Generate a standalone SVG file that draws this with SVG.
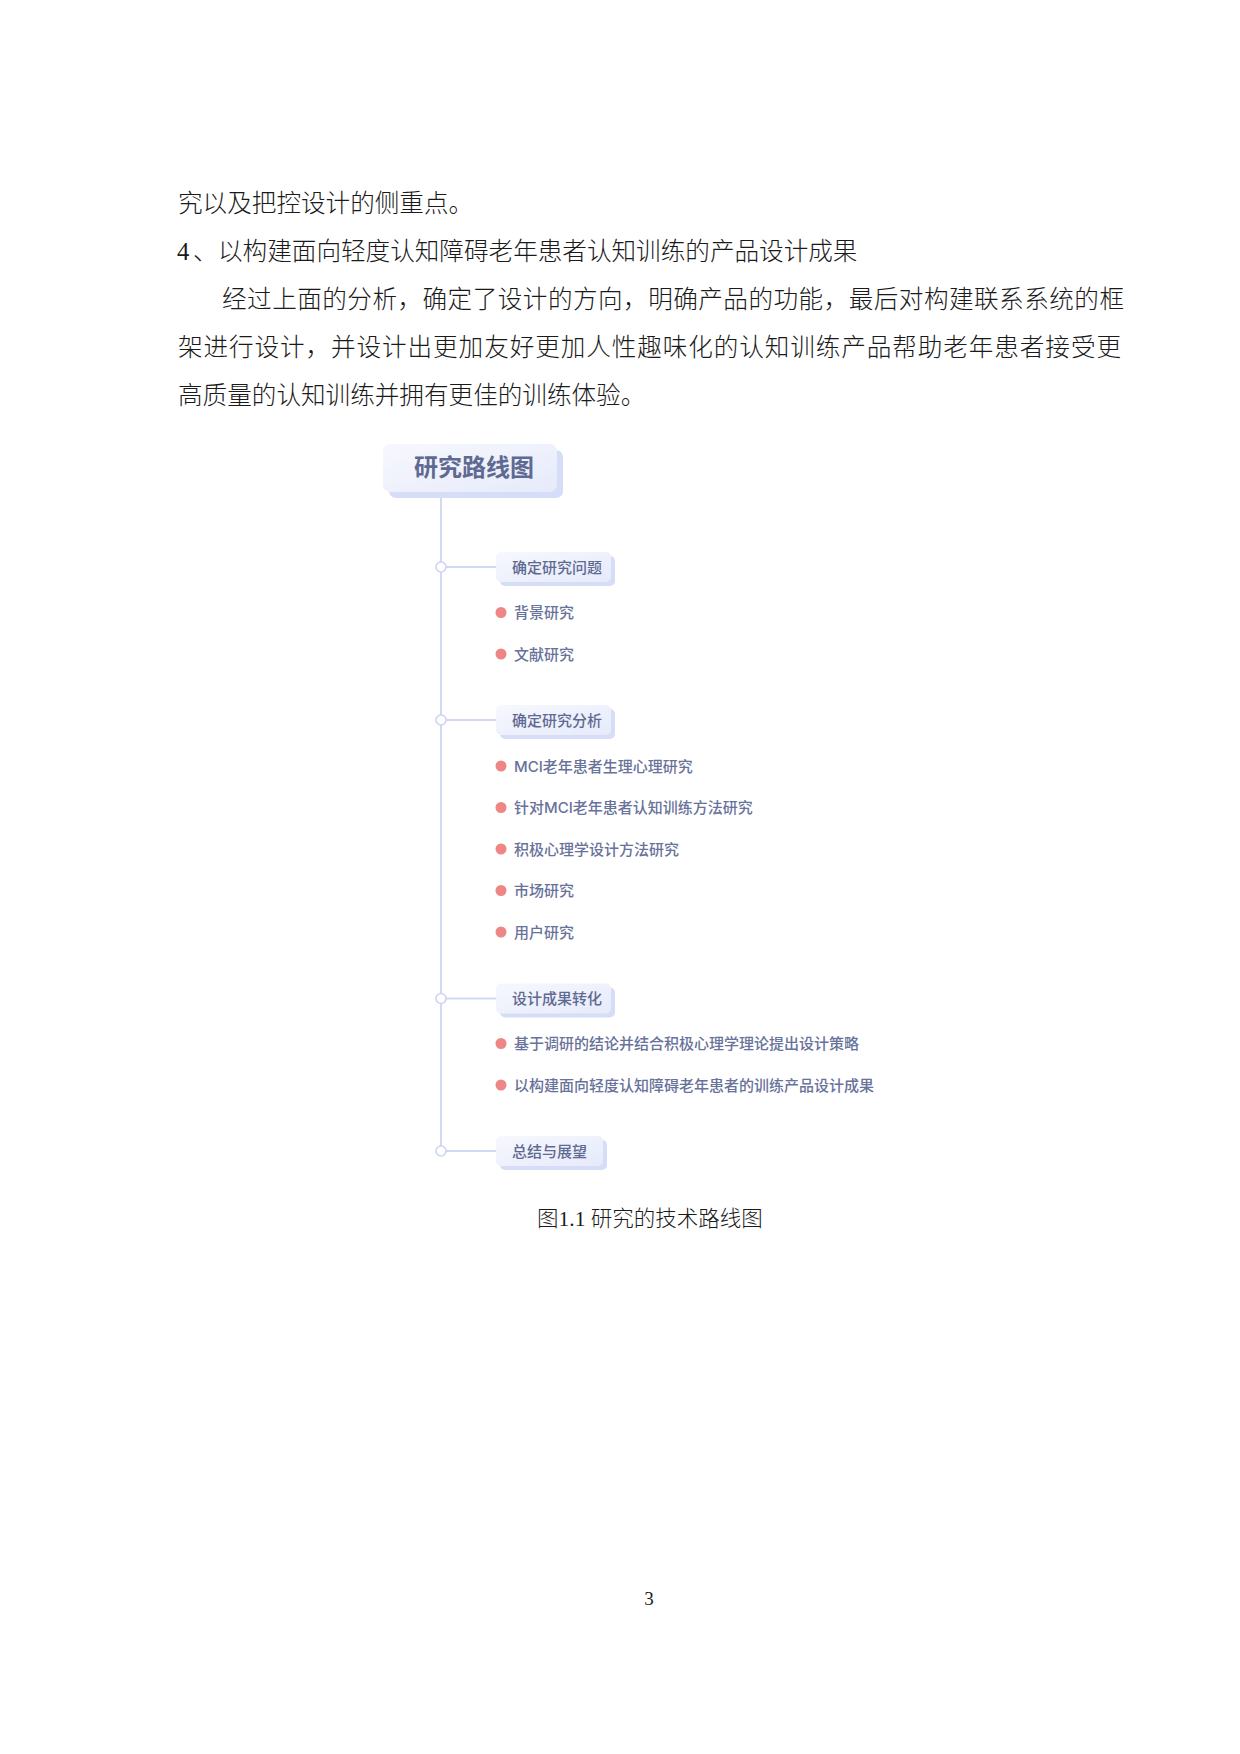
<svg xmlns="http://www.w3.org/2000/svg" width="1240" height="1754" viewBox="0 0 1240 1754">
<defs>
<linearGradient id="boxg" x1="0" y1="0" x2="1" y2="1">
<stop offset="0" stop-color="#f7f8fe"/>
<stop offset="1" stop-color="#e6eafa"/>
</linearGradient>
<style>
.body{font-family:"Liberation Serif","Noto Sans CJK SC",serif;font-size:24.6px;fill:#1a1a1a;font-weight:300}
.cap{font-family:"Liberation Serif","Noto Sans CJK SC",serif;font-size:21.5px;fill:#1a1a1a;font-weight:300}
.pg{font-family:"Liberation Serif",serif;font-size:19px;fill:#1a1a1a}
.title{font-family:"Noto Sans CJK SC",sans-serif;font-size:24px;font-weight:700;fill:#5f6a92;text-anchor:middle}
.sec{font-family:"Noto Sans CJK SC",sans-serif;font-size:15px;font-weight:500;fill:#5f6a92}
.item{font-family:"Inter","Noto Sans CJK SC",sans-serif;font-size:15px;font-weight:500;fill:#68729a}
.box{fill:url(#boxg)}
.shadow{fill:#d6ddf6}
.dot{fill:#ee8686}
.line{stroke:#d2d9f5;stroke-width:2;fill:none}
.ring{stroke:#ccd4f2;stroke-width:1.6;fill:#ffffff}
</style>
</defs>
<rect width="1240" height="1754" fill="#ffffff"/>

<g id="body-text">
<text class="body" x="178" y="211.5">究以及把控设计的侧重点。</text>
<text class="body" x="177" y="259.5">4<tspan x="193">、</tspan><tspan x="218">以构建面向轻度认知障碍老年患者认知训练的产品设计成果</tspan></text>
<text class="body" x="222" y="307.5" textLength="902" lengthAdjust="spacing">经过上面的分析，确定了设计的方向，明确产品的功能，最后对构建联系系统的框</text>
<text class="body" x="178" y="355.5" textLength="943" lengthAdjust="spacing">架进行设计，并设计出更加友好更加人性趣味化的认知训练产品帮助老年患者接受更</text>
<text class="body" x="178" y="403.5">高质量的认知训练并拥有更佳的训练体验。</text>
</g>

<g id="connectors">
<line class="line" x1="441" y1="492" x2="441" y2="1146"/>
<line class="line" x1="446" y1="567" x2="496" y2="567"/>
<line class="line" x1="446" y1="720" x2="496" y2="720"/>
<line class="line" x1="446" y1="998.5" x2="496" y2="998.5"/>
<line class="line" x1="446" y1="1151" x2="496" y2="1151"/>
<circle class="ring" cx="441" cy="567" r="5"/>
<circle class="ring" cx="441" cy="720" r="5"/>
<circle class="ring" cx="441" cy="998.5" r="5"/>
<circle class="ring" cx="441" cy="1151" r="5"/>
</g>

<g id="node-title">
<rect class="shadow" x="389" y="450" width="174" height="48" rx="7"/>
<rect class="box" x="383" y="444" width="174" height="48" rx="7"/>
<text class="title" x="474" y="476">研究路线图</text>
</g>

<g id="node-sec1">
<rect class="shadow" x="500" y="556" width="115" height="30" rx="5"/>
<rect class="box" x="496" y="552" width="115" height="30" rx="5"/>
<text class="sec" x="512" y="572.5">确定研究问题</text>
</g>
<g id="node-item1-1"><circle class="dot" cx="501" cy="612.5" r="5.5"/><text class="item" x="514" y="618">背景研究</text></g>
<g id="node-item1-2"><circle class="dot" cx="501" cy="654" r="5.5"/><text class="item" x="514" y="659.5">文献研究</text></g>

<g id="node-sec2">
<rect class="shadow" x="500" y="709" width="115" height="30" rx="5"/>
<rect class="box" x="496" y="705" width="115" height="30" rx="5"/>
<text class="sec" x="512" y="725.5">确定研究分析</text>
</g>
<g id="node-item2-1"><circle class="dot" cx="501" cy="766" r="5.5"/><text class="item" x="514" y="771.5">MCI老年患者生理心理研究</text></g>
<g id="node-item2-2"><circle class="dot" cx="501" cy="807.5" r="5.5"/><text class="item" x="514" y="813">针对MCI老年患者认知训练方法研究</text></g>
<g id="node-item2-3"><circle class="dot" cx="501" cy="849" r="5.5"/><text class="item" x="514" y="854.5">积极心理学设计方法研究</text></g>
<g id="node-item2-4"><circle class="dot" cx="501" cy="890.5" r="5.5"/><text class="item" x="514" y="896">市场研究</text></g>
<g id="node-item2-5"><circle class="dot" cx="501" cy="932" r="5.5"/><text class="item" x="514" y="937.5">用户研究</text></g>

<g id="node-sec3">
<rect class="shadow" x="500" y="987.5" width="115" height="30" rx="5"/>
<rect class="box" x="496" y="983.5" width="115" height="30" rx="5"/>
<text class="sec" x="512" y="1004">设计成果转化</text>
</g>
<g id="node-item3-1"><circle class="dot" cx="501" cy="1043.5" r="5.5"/><text class="item" x="514" y="1049">基于调研的结论并结合积极心理学理论提出设计策略</text></g>
<g id="node-item3-2"><circle class="dot" cx="501" cy="1085" r="5.5"/><text class="item" x="514" y="1090.5">以构建面向轻度认知障碍老年患者的训练产品设计成果</text></g>

<g id="node-sec4">
<rect class="shadow" x="500" y="1140" width="107" height="30" rx="5"/>
<rect class="box" x="496" y="1136" width="107" height="30" rx="5"/>
<text class="sec" x="512" y="1156.5">总结与展望</text>
</g>

<g id="caption">
<text class="cap" x="537" y="1225.5">图1.1 研究的技术路线图</text>
<text class="pg" x="649" y="1605" text-anchor="middle">3</text>
</g>
</svg>
